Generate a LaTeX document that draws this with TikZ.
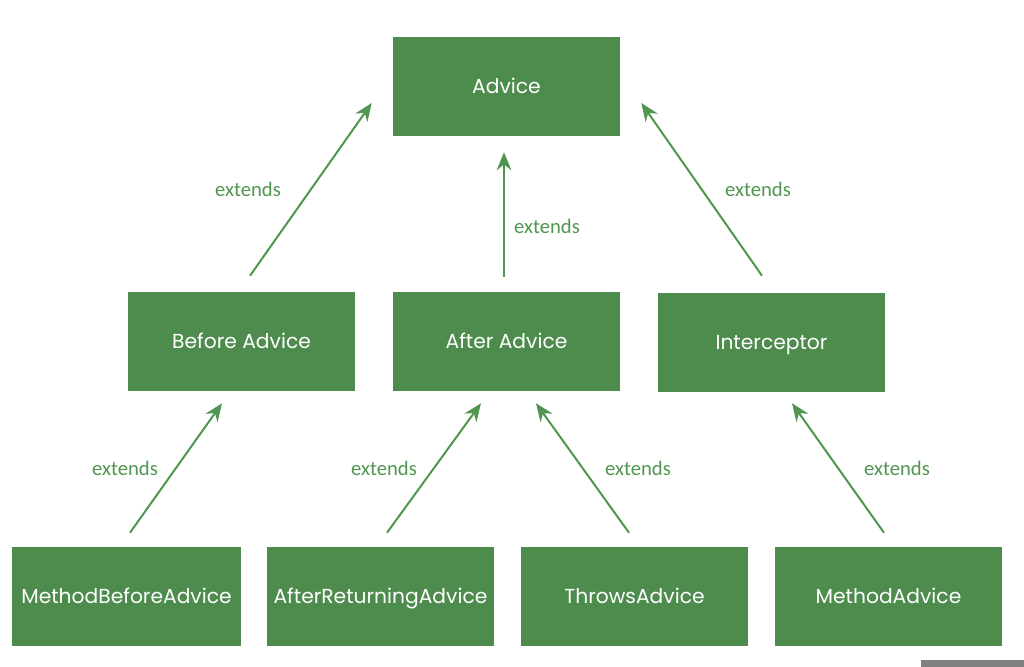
\documentclass[tikz,border=0pt]{standalone}
\usepackage{fontspec}
\setmainfont{Poppins}
\newfontfamily\lblfont{Carlito}
\usepackage{tikz}
\usetikzlibrary{arrows.meta, positioning, calc}
\definecolor{boxgreen}  {RGB}{78, 140,  78}
\definecolor{linegreen} {RGB}{80, 150,  80}
\definecolor{bargray}   {RGB}{128,128, 128}

\tikzset{
	cls/.style={fill=boxgreen, draw=none, text=white, minimum width=170.25pt,
		minimum height=74.25pt, inner sep=0pt, text height=13pt, text depth=2.5pt,
		font=\fontsize{15.2}{18}\selectfont},
	ext/.style={linegreen, line width=1.5pt, -{Stealth[length=13.5pt, width=11pt]}},
	lbl/.style={text=linegreen, font=\lblfont\fontsize{15.5}{18}\selectfont}
}

\begin{document}
\begin{tikzpicture}[x=0.75pt, y=-0.75pt]
	\useasboundingbox (0,0) rectangle (1024,667);
	% top
	\node[cls] (advice) at (506.5,86.5) {Advice};
	% middle row
	\node[cls] (before) at (241.5,341.5) {Before Advice};
	\node[cls] (after) at (506.5,341.5) {After Advice};
	\node[cls] (icpt) at (771.5,342.5) {Interceptor};
	% bottom row
	\node[cls, minimum width=171.75pt] (mba) at (126.5,596.5) {MethodBeforeAdvice};
	\node[cls] (ara) at (380.5,596.5) {AfterReturningAdvice};
	\node[cls] (throws) at (634.5,596.5) {ThrowsAdvice};
	\node[cls] (madv) at (888.5,596.5) {MethodAdvice};

	% arrows to Advice
	\draw[ext] ([shift={(8.5,-16)}]before.north) -- ([shift={(-21,16.5)}]advice.west);
	\draw[ext] ([shift={(-2.5,-15)}]after.north) -- ([shift={(-2.5,16)}]advice.south);
	\draw[ext] ([shift={(-9.5,-17)}]icpt.north) -- ([shift={(21,16.5)}]advice.east);
	% arrows to the middle row
	\draw[ext] ([shift={(3.5,-14)}]mba.north) -- ([shift={(-19.5,12)}]before.south);
	\draw[ext] ([shift={(6.5,-14)}]ara.north) -- ([shift={(-25.5,12)}]after.south);
	\draw[ext] ([shift={(-5.5,-14)}]throws.north) -- ([shift={(29.5,12)}]after.south);
	\draw[ext] ([shift={(-4.5,-14)}]madv.north) -- ([shift={(20.5,11)}]icpt.south);

	% labels
	\node[lbl] (e1) at (248,189) {extends};
	\node[lbl] (e2) at (547,226) {extends};
	\node[lbl] (e3) at (758,189) {extends};
	\node[lbl] (e4) at (125,468) {extends};
	\node[lbl] (e5) at (384,468) {extends};
	\node[lbl] (e6) at (638,468) {extends};
	\node[lbl] (e7) at (897,468) {extends};

	% bar at the bottom edge
	\fill[bargray] (921,660) rectangle (1024,667);
\end{tikzpicture}
\end{document}
